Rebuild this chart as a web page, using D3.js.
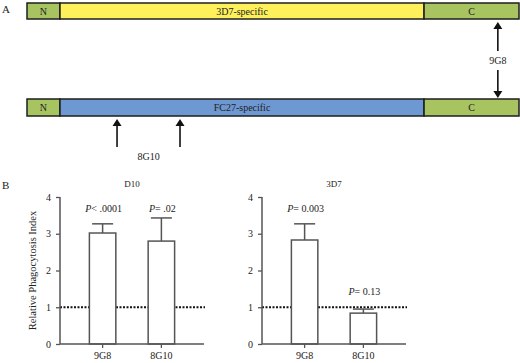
<!DOCTYPE html>
<html><head><meta charset="utf-8">
<script src="https://cdn.jsdelivr.net/npm/d3@7"></script>
<style>body{margin:0;background:#fff}svg{display:block}text{font-family:"Liberation Serif","Times New Roman",serif;fill:#222}</style>
</head><body><svg id="c" width="520" height="363"></svg>
<script>
// Panel A: protein schematic (positions in % of protein length)
const segmentLabels = ["N", "specific", "C"];
const segmentBounds = [0, 6.7, 80.7, 100];
const topMiddleLabel = "3D7-specific";
const bottomMiddleLabel = "FC27-specific";
const epitope9G8 = 95.7;
const epitopes8G10 = [18.3, 31.1];

// Panel B
const categories = ["9G8", "8G10"];
const d10Values = [3.02, 2.80];
const d10ErrTop = [3.27, 3.43];
const d10PLabels = ["< .0001", "= .02"];
const d10PLabelAt = [3.6, 3.6];
const d3d7Values = [2.83, 0.84];
const d3d7ErrTop = [3.27, 0.95];
const d3d7PLabels = ["= 0.003", "= 0.13"];
const d3d7PLabelAt = [3.6, 1.33];
const yTicks = [0, 1, 2, 3, 4];
const baseline = 1;

const svg = d3.select("#c");
const green = "#a7c461", yellow = "#fdf05b", blue = "#6e98d2";

// ---------- Panel A ----------
svg.append("text").attr("x", 2).attr("y", 13).attr("font-size", 11).text("A");
const xA = d3.scaleLinear().domain([0, 100]).range([27, 519]);
function drawBar(y, h, midColor, midLabel) {
  const g = svg.append("g");
  const cols = [green, midColor, green];
  const labs = ["N", midLabel, "C"];
  for (let i = 0; i < 3; i++) {
    g.append("rect").attr("x", xA(segmentBounds[i])).attr("y", y)
      .attr("width", xA(segmentBounds[i + 1]) - xA(segmentBounds[i])).attr("height", h)
      .attr("fill", cols[i]).attr("stroke", "#1e1e1e").attr("stroke-width", 1.5);
    g.append("text").attr("x", (xA(segmentBounds[i]) + xA(segmentBounds[i + 1])) / 2)
      .attr("y", y + h / 2 + 3.5).attr("text-anchor", "middle").attr("font-size", 10).text(labs[i]);
  }
}
drawBar(3, 16, yellow, topMiddleLabel);
drawBar(99, 17, blue, bottomMiddleLabel);

function arrow(x, y1, y2) { // tip at y2
  const dir = y2 < y1 ? -1 : 1;
  svg.append("line").attr("x1", x).attr("x2", x).attr("y1", y1).attr("y2", y2 - dir * 5)
    .attr("stroke", "#111").attr("stroke-width", 1.6);
  svg.append("path").attr("d", `M${x},${y2} L${x - 4.5},${y2 - dir * 7} L${x + 4.5},${y2 - dir * 7} Z`).attr("fill", "#111");
}
const x9 = xA(epitope9G8);
arrow(x9, 51, 22);
arrow(x9, 70, 98);
svg.append("text").attr("x", x9).attr("y", 64).attr("text-anchor", "middle").attr("font-size", 10).text("9G8");
epitopes8G10.forEach(p => arrow(xA(p), 147, 119));
svg.append("text").attr("x", d3.mean(epitopes8G10, xA)).attr("y", 160).attr("text-anchor", "middle").attr("font-size", 10).text("8G10");

// ---------- Panel B ----------
svg.append("text").attr("x", 2).attr("y", 189).attr("font-size", 11).text("B");
const y = d3.scaleLinear().domain([0, 4]).range([344, 197]);

function panel(x0, x1, title, values, errTop, pLabels, pAt) {
  const g = svg.append("g");
  const x = d3.scaleBand().domain(categories).range([x0, x1]).paddingInner(0.55).paddingOuter(0.5);
  g.append("line").attr("x1", x0).attr("x2", x1 + 1).attr("y1", y(baseline)).attr("y2", y(baseline))
    .attr("stroke", "#111").attr("stroke-width", 2).attr("stroke-dasharray", "2,1.5");
  categories.forEach((c, i) => {
    const cx = x(c) + x.bandwidth() / 2;
    g.append("line").attr("x1", cx).attr("x2", cx).attr("y1", y(values[i])).attr("y2", y(errTop[i]))
      .attr("stroke", "#555").attr("stroke-width", 1.5);
    g.append("line").attr("x1", cx - 10.5).attr("x2", cx + 10.5).attr("y1", y(errTop[i])).attr("y2", y(errTop[i]))
      .attr("stroke", "#555").attr("stroke-width", 1.5);
  });
  g.selectAll("rect.bar").data(values).join("rect").attr("class", "bar")
    .attr("x", (d, i) => x(categories[i])).attr("y", d => y(d))
    .attr("width", x.bandwidth()).attr("height", d => y(0) - y(d))
    .attr("fill", "#fff").attr("stroke", "#555").attr("stroke-width", 1.5);
  const ya = g.append("g").attr("transform", `translate(${x0},0)`)
    .call(d3.axisLeft(y).tickValues(yTicks).tickFormat(d3.format("d")).tickSize(4).tickPadding(5));
  const xa = g.append("g").attr("transform", `translate(0,${y(0)})`)
    .call(d3.axisBottom(x).tickSize(4).tickPadding(4));
  [ya, xa].forEach(a => {
    a.select(".domain").attr("stroke", "#555").attr("stroke-width", 1.5);
    a.selectAll(".tick line").attr("stroke", "#555").attr("stroke-width", 1.3);
    a.selectAll("text").attr("font-size", 10).attr("font-family", '"Liberation Serif",serif').attr("fill", "#222");
  });
  xa.select(".domain").attr("d", `M${x0},0H${x1}`);
  ya.select(".domain").attr("d", `M0,${y(4)}V${y(0)}`);
  g.append("text").attr("x", (x0 + x1) / 2).attr("y", 187).attr("text-anchor", "middle").attr("font-size", 9).text(title);
  categories.forEach((c, i) => {
    const cx = x(c) + x.bandwidth() / 2;
    const t = g.append("text").attr("x", cx + 1).attr("y", y(pAt[i])).attr("text-anchor", "middle").attr("font-size", 10);
    t.append("tspan").attr("font-style", "italic").text("P");
    t.append("tspan").text(pLabels[i]);
  });
}
panel(60, 204, "D10", d10Values, d10ErrTop, d10PLabels, d10PLabelAt);
panel(262, 406, "3D7", d3d7Values, d3d7ErrTop, d3d7PLabels, d3d7PLabelAt);

svg.append("text").attr("transform", `translate(36,${y(2)}) rotate(-90)`).attr("text-anchor", "middle")
  .attr("font-size", 10.5).text("Relative Phagocytosis Index");
</script></body></html>
